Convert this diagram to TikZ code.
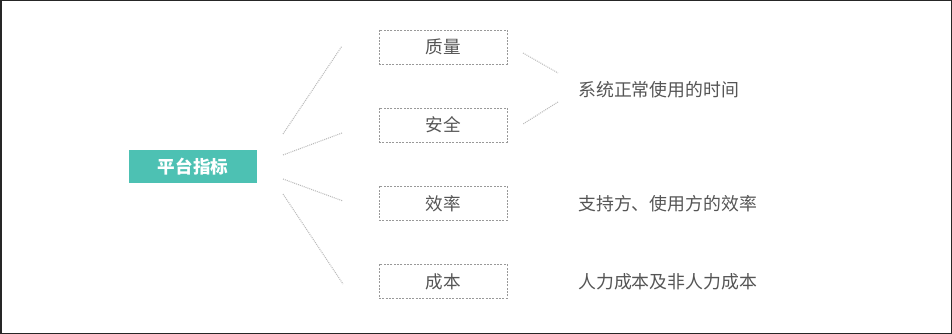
\documentclass[tikz,border=0pt]{standalone}
\usepackage{fontspec}
\setmainfont{Noto Sans CJK SC}
\definecolor{teal1}{HTML}{4DC1B3}
\definecolor{txtgray}{HTML}{555555}
\definecolor{boxgray}{HTML}{999999}
\definecolor{linegray}{HTML}{BBBBBB}
\tikzset{
  rootbox/.style={fill=teal1, text=white, minimum width=96pt, minimum height=24.75pt, inner sep=0pt, font=\fontsize{13.2}{15}\selectfont\bfseries},
  itembox/.style={draw=boxgray, line width=0.6pt, dash pattern=on 1.5pt off 1pt, minimum width=96pt, minimum height=25.5pt, inner sep=0pt, text=txtgray, font=\fontsize{13.2}{15}\selectfont},
  desc/.style={anchor=west, inner sep=0pt, text=txtgray, font=\fontsize{13.4}{15}\selectfont},
  dotline/.style={draw=linegray, line width=0.8pt, dash pattern=on 0.75pt off 0.75pt}
}
\begin{document}
\begin{tikzpicture}[x=0.75pt,y=-0.75pt]
\useasboundingbox (0,0) rectangle (952,334);
\draw[line width=1.5pt, black!85] (0.5,0.5) rectangle (951.5,333.5);
\node[rootbox] (root) at (193,167) {平台指标};
\node[itembox] (q) at (443,47) {质量};
\node[itembox] (s) at (443,125) {安全};
\node[itembox] (e) at (443,203.5) {效率};
\node[itembox] (c) at (443,281.5) {成本};
\node[desc] (d1) at (578,90) {系统正常使用的时间};
\node[desc] (d2) at (578,204) {支持方、使用方的效率};
\node[desc] (d3) at (578,282) {人力成本及非人力成本};
\coordinate (a1) at (283,134); \coordinate (b1) at (342,46);
\coordinate (a2) at (283,155); \coordinate (b2) at (342,133);
\coordinate (a3) at (283,179); \coordinate (b3) at (343,201);
\coordinate (a4) at (283,194); \coordinate (b4) at (343,284);
\coordinate (r1) at (523,53); \coordinate (m1) at (558,73);
\coordinate (m2) at (558,102); \coordinate (r2) at (523,124);
\draw[dotline] (a1) -- (b1);
\draw[dotline] (a2) -- (b2);
\draw[dotline] (a3) -- (b3);
\draw[dotline] (a4) -- (b4);
\draw[dotline] (r1) -- (m1);
\draw[dotline] (m2) -- (r2);
\end{tikzpicture}
\end{document}
